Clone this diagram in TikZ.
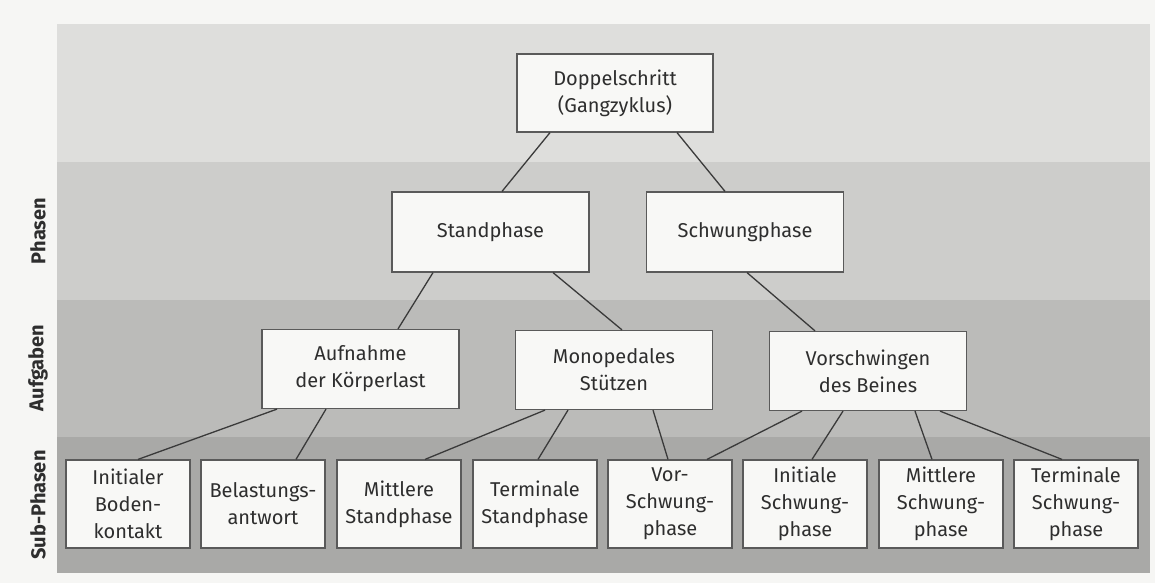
\documentclass[tikz,border=0pt]{standalone}
\usepackage{fontspec}
\setmainfont{Fira Sans}
\definecolor{bgc}{HTML}{F6F6F4}
\definecolor{bandA}{HTML}{DEDEDC}
\definecolor{bandB}{HTML}{CDCDCB}
\definecolor{bandC}{HTML}{BBBBB9}
\definecolor{bandD}{HTML}{A9A9A7}
\definecolor{boxfill}{HTML}{F8F8F6}
\definecolor{boxline}{HTML}{5A5A5A}
\definecolor{txt}{HTML}{2E2E2E}
\definecolor{connc}{HTML}{3A3A3A}
\begin{document}
\begin{tikzpicture}[x=1pt,y=-1pt,
  box/.style={draw=boxline, line width=1.2pt, fill=boxfill, text=txt, align=center, inner sep=0pt, font=\fontsize{20}{27}\selectfont},
  wide/.style={box, minimum width=197pt, minimum height=79pt},
  sub/.style={box, minimum width=124pt, minimum height=88pt},
  conn/.style={draw=connc, line width=1.3pt},
  rowlabel/.style={rotate=90, text=txt, font=\fontsize{20}{24}\selectfont\bfseries}]
\useasboundingbox (0,0) rectangle (1155,583);
\fill[bgc] (0,0) rectangle (1155,583);
\fill[bandA] (57,24) rectangle (1150,162);
\fill[bandB] (57,162) rectangle (1150,300);
\fill[bandC] (57,300) rectangle (1150,437);
\fill[bandD] (57,437) rectangle (1150,573);

\node[rowlabel] (lphasen) at (38,231) {Phasen};
\node[rowlabel] (laufgaben) at (38,368) {Aufgaben};
\node[rowlabel] (lsub) at (38,505) {Sub-Phasen};

\node[wide, minimum width=196pt, minimum height=78pt] (doppel) at (615,93) {Doppelschritt\\(Gangzyklus)};
\node[wide, minimum height=80pt] (stand) at (490.5,232) {Standphase};
\node[wide, minimum height=80pt] (schwung) at (745,232) {Schwungphase};
\node[wide] (aufn) at (360.5,369) {Aufnahme\\der Körperlast};
\node[wide] (mono) at (614,370) {Monopedales\\Stützen};
\node[wide] (vor) at (868,371) {Vorschwingen\\des Beines};

\node[sub] (s1) at (128,504) {Initialer\\Boden-\\kontakt};
\node[sub] (s2) at (263,504) {Belastungs-\\antwort};
\node[sub] (s3) at (399,504) {Mittlere\\Standphase};
\node[sub] (s4) at (535,504) {Terminale\\Standphase};
\node[sub] (s5) at (670,504) {Vor-\\Schwung-\\phase};
\node[sub] (s6) at (805,504) {Initiale\\Schwung-\\phase};
\node[sub] (s7) at (941,504) {Mittlere\\Schwung-\\phase};
\node[sub] (s8) at (1076,504) {Terminale\\Schwung-\\phase};

\draw[conn] ([xshift=-65pt]doppel.south) -- ([xshift=11.5pt]stand.north);
\draw[conn] ([xshift=62pt]doppel.south) -- ([xshift=-20pt]schwung.north);
\draw[conn] ([xshift=-57.5pt]stand.south) -- ([xshift=37.5pt]aufn.north);
\draw[conn] ([xshift=62.5pt]stand.south) -- ([xshift=8pt]mono.north);
\draw[conn] ([xshift=2pt]schwung.south) -- ([xshift=-53pt]vor.north);

\draw[conn] ([xshift=-83.5pt]aufn.south) -- ([xshift=10pt]s1.north);
\draw[conn] ([xshift=-34.5pt]aufn.south) -- ([xshift=33pt]s2.north);
\draw[conn] ([xshift=-69pt]mono.south) -- ([xshift=26pt]s3.north);
\draw[conn] ([xshift=-46pt]mono.south) -- ([xshift=3pt]s4.north);
\draw[conn] ([xshift=39pt]mono.south) -- ([xshift=-2pt]s5.north);
\draw[conn] ([xshift=-66pt]vor.south) -- ([xshift=37pt]s5.north);
\draw[conn] ([xshift=-25pt]vor.south) -- ([xshift=7pt]s6.north);
\draw[conn] ([xshift=47pt]vor.south) -- ([xshift=-9pt]s7.north);
\draw[conn] ([xshift=72pt]vor.south) -- ([xshift=-14pt]s8.north);
\end{tikzpicture}
\end{document}
